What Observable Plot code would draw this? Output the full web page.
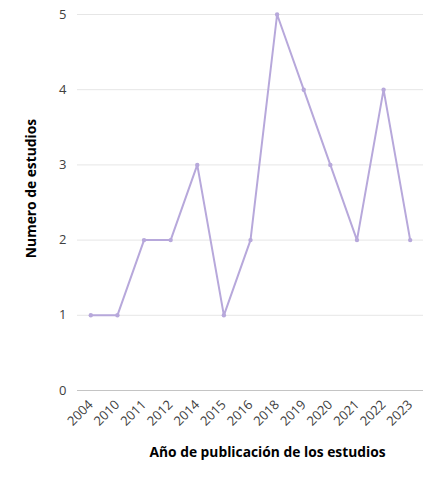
<!DOCTYPE html>
<html>
<head>
<meta charset="utf-8">
<script src="https://cdn.jsdelivr.net/npm/d3@7"></script>
<script src="https://cdn.jsdelivr.net/npm/@observablehq/plot@0.6"></script>
<style>
  html, body { margin: 0; padding: 0; background: #fff; }
  #chart svg { display: block; }
</style>
</head>
<body>
<div id="chart"></div>
<script>
// Publication years (ordinal) and number of studies per year
const years = ["2004", "2010", "2011", "2012", "2014", "2015", "2016", "2018", "2019", "2020", "2021", "2022", "2023"];
const counts = [1, 1, 2, 2, 3, 1, 2, 5, 4, 3, 2, 4, 2];
const yTicks = [0, 1, 2, 3, 4, 5];
const xTitle = "Año de publicación de los estudios";
const yTitle = "Numero de estudios";

const data = years.map((year, i) => ({year, n: counts[i]}));
const lineColor = "#b7a8db";

const chart = Plot.plot({
  width: 443,
  height: 483,
  marginTop: 14,
  marginRight: 20,
  marginBottom: 93,
  marginLeft: 77,
  style: {fontFamily: "'Open Sans', sans-serif", fontSize: "12px", color: "#404040"},
  x: {type: "point", domain: years, padding: 0.5, round: false, label: null},
  y: {domain: [0, 5], label: null},
  marks: [
    Plot.gridY(yTicks.filter(d => d > 0), {stroke: "#e6e6e6", strokeOpacity: 1}),
    Plot.ruleY([0], {stroke: "#c4c4c4", strokeWidth: 1.2}),
    Plot.axisY(yTicks, {tickSize: 0, tickPadding: 11, fontSize: 13, tickFormat: "d", label: null}),
    Plot.axisX({tickSize: 0, tickRotate: -45, tickPadding: 12, fontSize: 13, label: null}),
    Plot.lineY(data, {x: "year", y: "n", stroke: lineColor, strokeWidth: 2}),
    Plot.dot(data, {x: "year", y: "n", r: 2.2, fill: lineColor}),
    // axis titles
    Plot.text([xTitle], {frameAnchor: "bottom", dx: 17, dy: 66, fontSize: 13.8, fontWeight: "bold", fill: "#000"}),
    Plot.text([yTitle], {frameAnchor: "left", textAnchor: "middle", rotate: -90, dx: -46, dy: -14, fontSize: 13.8, fontWeight: "bold", fill: "#000"})
  ]
});
document.getElementById("chart").appendChild(chart);
</script>
</body>
</html>
